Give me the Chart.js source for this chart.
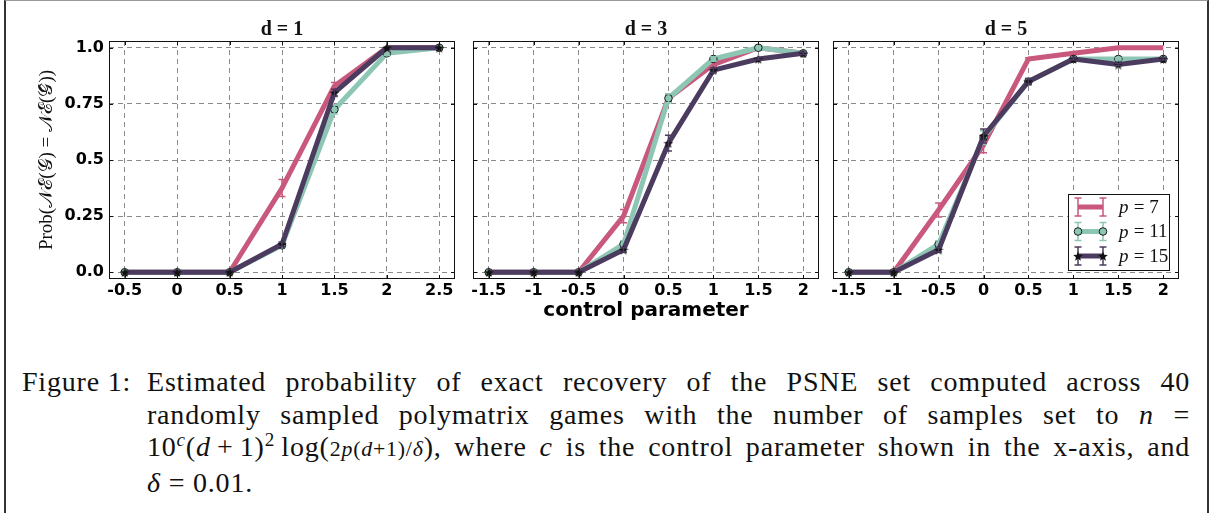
<!DOCTYPE html>
<html>
<head>
<meta charset="utf-8">
<script src="https://cdn.jsdelivr.net/npm/chart.js@4.4.1/dist/chart.umd.min.js"></script>
<style>
  body { margin: 0; background: #fff; }
  #fig { position: relative; width: 1211px; height: 513px; background: #fff; overflow: hidden; }
  #frame { position: absolute; left: 4px; top: 0; width: 1205px; height: 530px; box-sizing: border-box;
    border-left: 2px solid #333; border-right: 2px solid #333; border-top: 1px solid #999; }
  canvas { position: absolute; top: 0; }
  #caption { position: absolute; left: 22px; top: 366px; width: 1168px;
    font-family: "Liberation Serif", serif; font-size: 28px; letter-spacing: 0.8px;
    line-height: 32.5px; color: #111; }
  .row { display: flex; }
  .lab { width: 125px; flex: none; white-space: nowrap; }
  .txt { flex: 1; white-space: nowrap; }
  .just { text-align: justify; text-align-last: justify; white-space: normal; }
  sup { font-size: 0.68em; vertical-align: baseline; position: relative; top: -0.5em; }
  .sm { font-size: 0.78em; }
  .op { margin: 0 0.22em; }
</style>
</head>
<body>
<div id="fig">
  <div id="frame"></div>
  <canvas id="d1" width="464" height="330" style="left:0px"></canvas>
  <canvas id="d3" width="364" height="330" style="left:464px"></canvas>
  <canvas id="d5" width="387" height="330" style="left:824px"></canvas>
  <div id="caption">
    <div class="row"><span class="lab">Figure 1:</span><span class="txt just">Estimated probability of exact recovery of the PSNE set computed across 40</span></div>
    <div class="row"><span class="lab"></span><span class="txt just">randomly sampled polymatrix games with the number of samples set to <i>n</i> =</span></div>
    <div class="row"><span class="lab"></span><span class="txt just">10<sup><i>c</i></sup>(<i>d</i><span class="op">+</span>1)<sup>2</sup>&#8201;log(<span class="sm">2<i>p</i>(<i>d</i>+1)/<i>δ</i></span>), where <i>c</i> is the control parameter shown in the x-axis, and</span></div>
    <div class="row"><span class="lab"></span><span class="txt"><i>δ</i> = 0.01.</span></div>
  </div>
</div>
<script>
// control parameter values (x) for each panel
const controlD1 = [-0.5, 0, 0.5, 1, 1.5, 2, 2.5];
const controlD3 = [-1.5, -1, -0.5, 0, 0.5, 1, 1.5, 2];
const controlD5 = [-1.5, -1, -0.5, 0, 0.5, 1, 1.5, 2];
const xLabelsD1 = ["-0.5", "0", "0.5", "1", "1.5", "2", "2.5"];
const xLabelsD3 = ["-1.5", "-1", "-0.5", "0", "0.5", "1", "1.5", "2"];
const xLabelsD5 = ["-1.5", "-1", "-0.5", "0", "0.5", "1", "1.5", "2"];
const yTickValues = [0, 0.25, 0.5, 0.75, 1];
const yTickLabels = ["0.0", "0.25", "0.5", "0.75", "1.0"];
const seriesNames = ["p = 7", "p = 11", "p = 15"];

// d = 1
const p7D1 = [0, 0, 0, 0.375, 0.83, 1, 1];
const p11D1 = [0, 0, 0, 0.12, 0.725, 0.975, 1];
const p15D1 = [0, 0, 0, 0.125, 0.8, 1, 1];
const p7D1Err = [0, 0, 0, 0.038, 0.015, 0, 0];
const p11D1Err = [0, 0, 0, 0.01, 0.02, 0.01, 0];
const p15D1Err = [0, 0, 0, 0.01, 0.015, 0, 0];

// d = 3
const p7D3 = [0, 0, 0, 0.25, 0.775, 0.925, 1, 0.975];
const p11D3 = [0, 0, 0, 0.125, 0.775, 0.95, 1, 0.975];
const p15D3 = [0, 0, 0, 0.1, 0.575, 0.9, 0.95, 0.975];
const p7D3Err = [0, 0, 0, 0.03, 0.015, 0.01, 0, 0.005];
const p11D3Err = [0, 0, 0, 0.015, 0.02, 0.01, 0, 0.005];
const p15D3Err = [0, 0, 0, 0.01, 0.035, 0.01, 0.005, 0.005];

// d = 5
const p7D5 = [0, 0, 0.277, 0.567, 0.95, 0.975, 1, 1];
const p11D5 = [0, 0, 0.125, 0.6, 0.85, 0.95, 0.95, 0.95];
const p15D5 = [0, 0, 0.1, 0.607, 0.85, 0.95, 0.925, 0.95];
const p7D5Err = [0, 0, 0.031, 0.035, 0.005, 0.005, 0, 0];
const p11D5Err = [0, 0, 0.015, 0.03, 0.015, 0.005, 0.005, 0.005];
const p15D5Err = [0, 0, 0.01, 0.031, 0.012, 0.005, 0.005, 0.005];

const PINK = "#c9597c";
const TEAL = "#8ec6b5";
const DARK = "#4b3b5f";
const TICK_FONT = { family: "DejaVu Sans", size: 16, weight: "bold" };

function starImage(size, color) {
  const c = document.createElement("canvas");
  c.width = size;
  c.height = size;
  const g = c.getContext("2d");
  g.beginPath();
  for (let i = 0; i < 10; i++) {
    const r = i % 2 === 0 ? size / 2 : size / 4.6;
    const a = -Math.PI / 2 + (i * Math.PI) / 5;
    const px = size / 2 + r * Math.cos(a);
    const py = size / 2 + 0.6 + r * Math.sin(a);
    if (i === 0) g.moveTo(px, py);
    else g.lineTo(px, py);
  }
  g.closePath();
  g.fillStyle = color;
  g.fill();
  return c;
}
const STAR = starImage(10, "#111");

function points(xs, ys) {
  return xs.map((x, i) => ({ x: x, y: ys[i] }));
}

function makeDatasets(xs, p7, p11, p15, e7, e11, e15) {
  return [
    {
      label: seriesNames[0], data: points(xs, p7), errors: e7,
      borderColor: PINK, backgroundColor: PINK, borderWidth: 5,
      pointRadius: 0, order: 3,
    },
    {
      label: seriesNames[1], data: points(xs, p11), errors: e11,
      borderColor: TEAL, backgroundColor: TEAL, borderWidth: 5,
      pointRadius: 3.8, pointBorderColor: "#1b1b1b", pointBorderWidth: 1,
      pointBackgroundColor: TEAL, order: 2,
    },
    {
      label: seriesNames[2], data: points(xs, p15), errors: e15,
      borderColor: DARK, backgroundColor: DARK, borderWidth: 5,
      pointStyle: STAR, order: 1,
    },
  ];
}

// vertical error bars with caps, drawn from each dataset's errors array
const errorBars = {
  id: "errorBars",
  afterDatasetDraw(chart, args) {
    const ds = chart.data.datasets[args.index];
    if (!ds.errors) return;
    const y = chart.scales.y;
    const ctx = chart.ctx;
    ctx.save();
    ctx.strokeStyle = ds.borderColor;
    ctx.lineWidth = 1.5;
    args.meta.data.forEach((pt, i) => {
      const e = ds.errors[i];
      if (!e) return;
      const v = ds.data[i].y;
      const top = y.getPixelForValue(v + e);
      const bot = y.getPixelForValue(v - e);
      ctx.beginPath();
      ctx.moveTo(pt.x, top);
      ctx.lineTo(pt.x, bot);
      ctx.moveTo(pt.x - 3.5, top);
      ctx.lineTo(pt.x + 3.5, top);
      ctx.moveTo(pt.x - 3.5, bot);
      ctx.lineTo(pt.x + 3.5, bot);
      ctx.stroke();
    });
    ctx.restore();
  },
};

// axes box, inward tick marks and the panel title
const panelFrame = {
  id: "panelFrame",
  afterDraw(chart, args, opts) {
    const { ctx, chartArea: a, scales } = chart;
    ctx.save();
    ctx.strokeStyle = "#111";
    ctx.lineWidth = 1;
    ctx.strokeRect(a.left + 0.5, a.top + 0.5, a.width - 1, a.height - 1);
    ctx.beginPath();
    scales.x.ticks.forEach((t) => {
      const x = Math.round(scales.x.getPixelForValue(t.value)) + 0.5;
      ctx.moveTo(x, a.bottom);
      ctx.lineTo(x, a.bottom - 4);
      ctx.moveTo(x, a.top);
      ctx.lineTo(x, a.top + 4);
    });
    scales.y.ticks.forEach((t) => {
      const y = Math.round(scales.y.getPixelForValue(t.value)) + 0.5;
      ctx.moveTo(a.left, y);
      ctx.lineTo(a.left + 4, y);
      ctx.moveTo(a.right, y);
      ctx.lineTo(a.right - 4, y);
    });
    ctx.stroke();
    ctx.fillStyle = "#111";
    ctx.font = 'bold 20px "Liberation Serif"';
    ctx.textAlign = "center";
    ctx.textBaseline = "middle";
    ctx.fillText(opts.title, (a.left + a.right) / 2, 30);
    ctx.restore();
  },
};

// legend box in the lower right of the last panel
const legendBox = {
  id: "legendBox",
  afterDraw(chart) {
    const { ctx, chartArea: a } = chart;
    const right = a.right - 9;
    const bottom = a.bottom - 8;
    const left = right - 102;
    const top = bottom - 77;
    ctx.save();
    ctx.fillStyle = "#fff";
    ctx.fillRect(left, top, right - left, bottom - top);
    ctx.strokeStyle = "#111";
    ctx.lineWidth = 1;
    ctx.strokeRect(left + 0.5, top + 0.5, right - left - 1, bottom - top - 1);
    chart.data.datasets.forEach((ds, i) => {
      const y = top + 13 + i * 24.5;
      const x1 = left + 10;
      const x2 = left + 35;
      ctx.strokeStyle = ds.borderColor;
      ctx.lineWidth = 5;
      ctx.beginPath();
      ctx.moveTo(x1, y);
      ctx.lineTo(x2, y);
      ctx.stroke();
      ctx.lineWidth = 1.5;
      ctx.beginPath();
      [x1, x2].forEach((x) => {
        ctx.moveTo(x, y - 9);
        ctx.lineTo(x, y + 9);
        ctx.moveTo(x - 3.5, y - 9);
        ctx.lineTo(x + 3.5, y - 9);
        ctx.moveTo(x - 3.5, y + 9);
        ctx.lineTo(x + 3.5, y + 9);
      });
      ctx.stroke();
      [x1, x2].forEach((x) => {
        if (ds.pointStyle === STAR) {
          ctx.drawImage(STAR, x - 5, y - 5);
        } else if (ds.pointRadius) {
          ctx.beginPath();
          ctx.arc(x, y, 3.8, 0, Math.PI * 2);
          ctx.fillStyle = TEAL;
          ctx.fill();
          ctx.strokeStyle = "#1b1b1b";
          ctx.lineWidth = 1;
          ctx.stroke();
        }
      });
      ctx.fillStyle = "#111";
      ctx.textBaseline = "middle";
      ctx.textAlign = "left";
      ctx.font = 'italic 19px "Liberation Serif"';
      ctx.fillText("p", left + 51, y + 1);
      ctx.font = '19px "Liberation Serif"';
      ctx.fillText(ds.label.slice(1), left + 61, y + 1);
    });
    ctx.restore();
  },
};

function buildPanel(canvasId, cfg) {
  return new Chart(document.getElementById(canvasId), {
    type: "line",
    data: { datasets: cfg.datasets },
    options: {
      responsive: false,
      animation: false,
      elements: { line: { tension: 0, borderJoinStyle: "round" } },
      layout: { padding: { top: 41, right: cfg.padRight, bottom: 0, left: 0 } },
      plugins: {
        legend: { display: false },
        tooltip: { enabled: false },
        panelFrame: { title: cfg.title },
      },
      scales: {
        x: {
          type: "linear",
          min: cfg.xMin,
          max: cfg.xMax,
          afterBuildTicks: (s) => {
            s.ticks = cfg.xTicks.map((v) => ({ value: v }));
          },
          afterFit: (s) => {
            s.height = 51;
          },
          ticks: {
            callback: (v, i) => cfg.xLabels[i],
            font: TICK_FONT,
            color: "#000",
            padding: 2,
            maxRotation: 0,
            autoSkip: false,
          },
          grid: { color: "#8a8a8a", lineWidth: 1, drawTicks: false },
          border: { display: false, dash: [5, 4] },
          title: {
            display: cfg.showXTitle,
            text: "control parameter",
            font: { family: "DejaVu Sans", size: 20, weight: "bold" },
            color: "#000",
            padding: { top: 0, bottom: 7 },
          },
        },
        y: {
          type: "linear",
          min: -0.03,
          max: 1.03,
          afterBuildTicks: (s) => {
            s.ticks = yTickValues.map((v) => ({ value: v }));
          },
          afterFit: (s) => {
            s.width = cfg.yWidth;
          },
          ticks: {
            display: cfg.showYLabels,
            callback: (v, i) => yTickLabels[i],
            font: TICK_FONT,
            color: "#000",
            padding: 5,
          },
          grid: { color: "#8a8a8a", lineWidth: 1, drawTicks: false },
          border: { display: false, dash: [5, 4] },
          title: {
            display: cfg.showYLabels,
            text: "Prob(𝒩ℰ(𝒢) = 𝒩ℰ(𝒢̂))",
            font: { family: "Liberation Serif", size: 19 },
            color: "#111",
            padding: { top: 36, bottom: 0 },
          },
        },
      },
    },
    plugins: cfg.plugins,
  });
}

buildPanel("d1", {
  title: "d = 1",
  datasets: makeDatasets(controlD1, p7D1, p11D1, p15D1, p7D1Err, p11D1Err, p15D1Err),
  xTicks: controlD1, xLabels: xLabelsD1, xMin: -0.65, xMax: 2.65,
  padRight: 4, yWidth: 109, showYLabels: true, showXTitle: false,
  plugins: [errorBars, panelFrame],
});

buildPanel("d3", {
  title: "d = 3",
  datasets: makeDatasets(controlD3, p7D3, p11D3, p15D3, p7D3Err, p11D3Err, p15D3Err),
  xTicks: controlD3, xLabels: xLabelsD3, xMin: -1.675, xMax: 2.175,
  padRight: 9, yWidth: 4, showYLabels: false, showXTitle: true,
  plugins: [errorBars, panelFrame],
});

buildPanel("d5", {
  title: "d = 5",
  datasets: makeDatasets(controlD5, p7D5, p11D5, p15D5, p7D5Err, p11D5Err, p15D5Err),
  xTicks: controlD5, xLabels: xLabelsD5, xMin: -1.675, xMax: 2.175,
  padRight: 32, yWidth: 4, showYLabels: false, showXTitle: false,
  plugins: [errorBars, panelFrame, legendBox],
});
</script>
</body>
</html>
